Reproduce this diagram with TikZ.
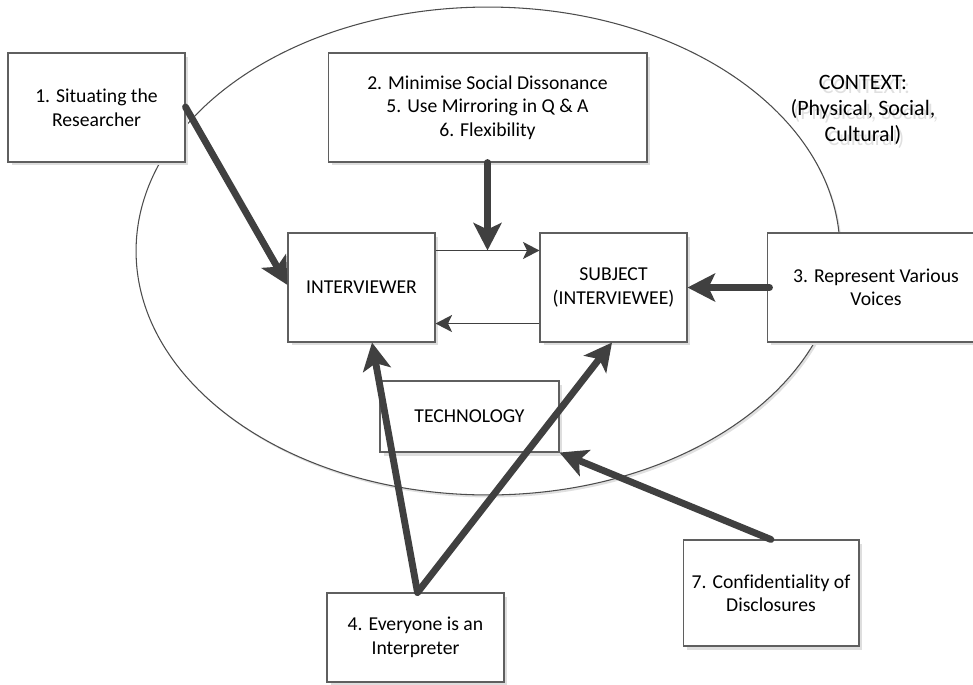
\documentclass[tikz,border=0pt]{standalone}
\usepackage{fontspec}
\setmainfont{Carlito}[Ligatures=NoCommon]
\usetikzlibrary{arrows.meta,shadows,shapes.geometric,calc}

\definecolor{arrowgray}{HTML}{404040}
\definecolor{framegray}{HTML}{5F5F5F}

\begin{document}
\begin{tikzpicture}[x=0.02cm,y=-0.02cm,
  boxshadow/.style={drop shadow={shadow xshift=0.07cm, shadow yshift=-0.07cm, fill=black!13, opacity=1}},
  box/.style={draw=framegray, line width=0.6pt, fill=white, align=center, inner sep=0pt,
              font=\fontsize{11.2}{13.4}\selectfont, boxshadow},
  boldarrow/.style={draw=arrowgray, line width=3.9pt, line cap=round,
              -{Stealth[length=0.55cm,width=0.56cm,inset=0.13cm]}},
  thinarrow/.style={draw=arrowgray, line width=1.1pt,
              -{Stealth[length=0.33cm,width=0.34cm,inset=0.08cm]}},
  ctxfont/.style={font=\fontsize{12.5}{14.8}\selectfont, align=center, inner sep=0pt}
]
\useasboundingbox (0,0) rectangle (973,684);

% context ellipse
\node[ellipse, draw=black!70, line width=0.6pt, fill=white,
      minimum width=14.08cm, minimum height=9.76cm, inner sep=0pt,
      drop shadow={shadow xshift=0.04cm, shadow yshift=-0.05cm, fill=black!12, opacity=1}]
      (ctx) at (488,251) {};

\node[ctxfont, text=black!12] (ctxshadow) at (866,114) {CONTEXT:\\(Physical, Social,\\Cultural)};
\node[ctxfont] (ctxlabel) at (863,110) {CONTEXT:\\(Physical, Social,\\Cultural)};

% boxes
\node[box, minimum width=3.54cm, minimum height=2.18cm] (b1) at (96.5,107.5) {1. Situating the\\Researcher};
\node[box, minimum width=6.38cm, minimum height=2.18cm] (b2) at (487.5,107.5) {2. Minimise Social Dissonance\\5. Use Mirroring in Q \& A\\6. Flexibility};
\node[box, minimum width=2.94cm, minimum height=2.18cm] (iv) at (361.5,287.5) {INTERVIEWER};
\node[box, minimum width=2.94cm, minimum height=2.18cm] (sj) at (613.5,287.5) {SUBJECT\\(INTERVIEWEE)};
\node[box, minimum width=4.36cm, minimum height=2.18cm] (b3) at (876,287.5) {3. Represent Various\\Voices};
\node[box, minimum width=3.58cm, minimum height=1.42cm] (tech) at (469.5,416.5) {TECHNOLOGY};
\node[box, minimum width=3.54cm, minimum height=1.78cm] (b4) at (415.5,637.5) {4. Everyone is an\\Interpreter};
\node[box, minimum width=3.52cm, minimum height=2.12cm] (b7) at (771,593) {7. Confidentiality of\\Disclosures};

% exchange between interviewer and subject
\coordinate (ivout) at ([yshift=-0.36cm]iv.north east);
\coordinate (sjin)  at ([yshift=-0.36cm]sj.north west);
\coordinate (sjout) at ([yshift=0.38cm]sj.south west);
\coordinate (ivin)  at ([yshift=0.38cm]iv.south east);
\draw[thinarrow] (ivout) -- (sjin);
\draw[thinarrow] (sjout) -- (ivin);

% influences
\draw[boldarrow] ([yshift=0.01cm]b1.east) -- ([yshift=0.05cm]iv.west);
\draw[boldarrow] (b2.south) -- (b2.south |- ivout);
\draw[boldarrow] ([xshift=0.06cm]b3.west) -- (sj.east);
\draw[boldarrow] ([xshift=0.04cm]b4.north) -- ([xshift=0.21cm]iv.south);
\draw[boldarrow] ([xshift=0.04cm]b4.north) -- ([xshift=-0.03cm]sj.south);
\draw[boldarrow] (b7.north) -- (tech.south east);
\end{tikzpicture}
\end{document}
